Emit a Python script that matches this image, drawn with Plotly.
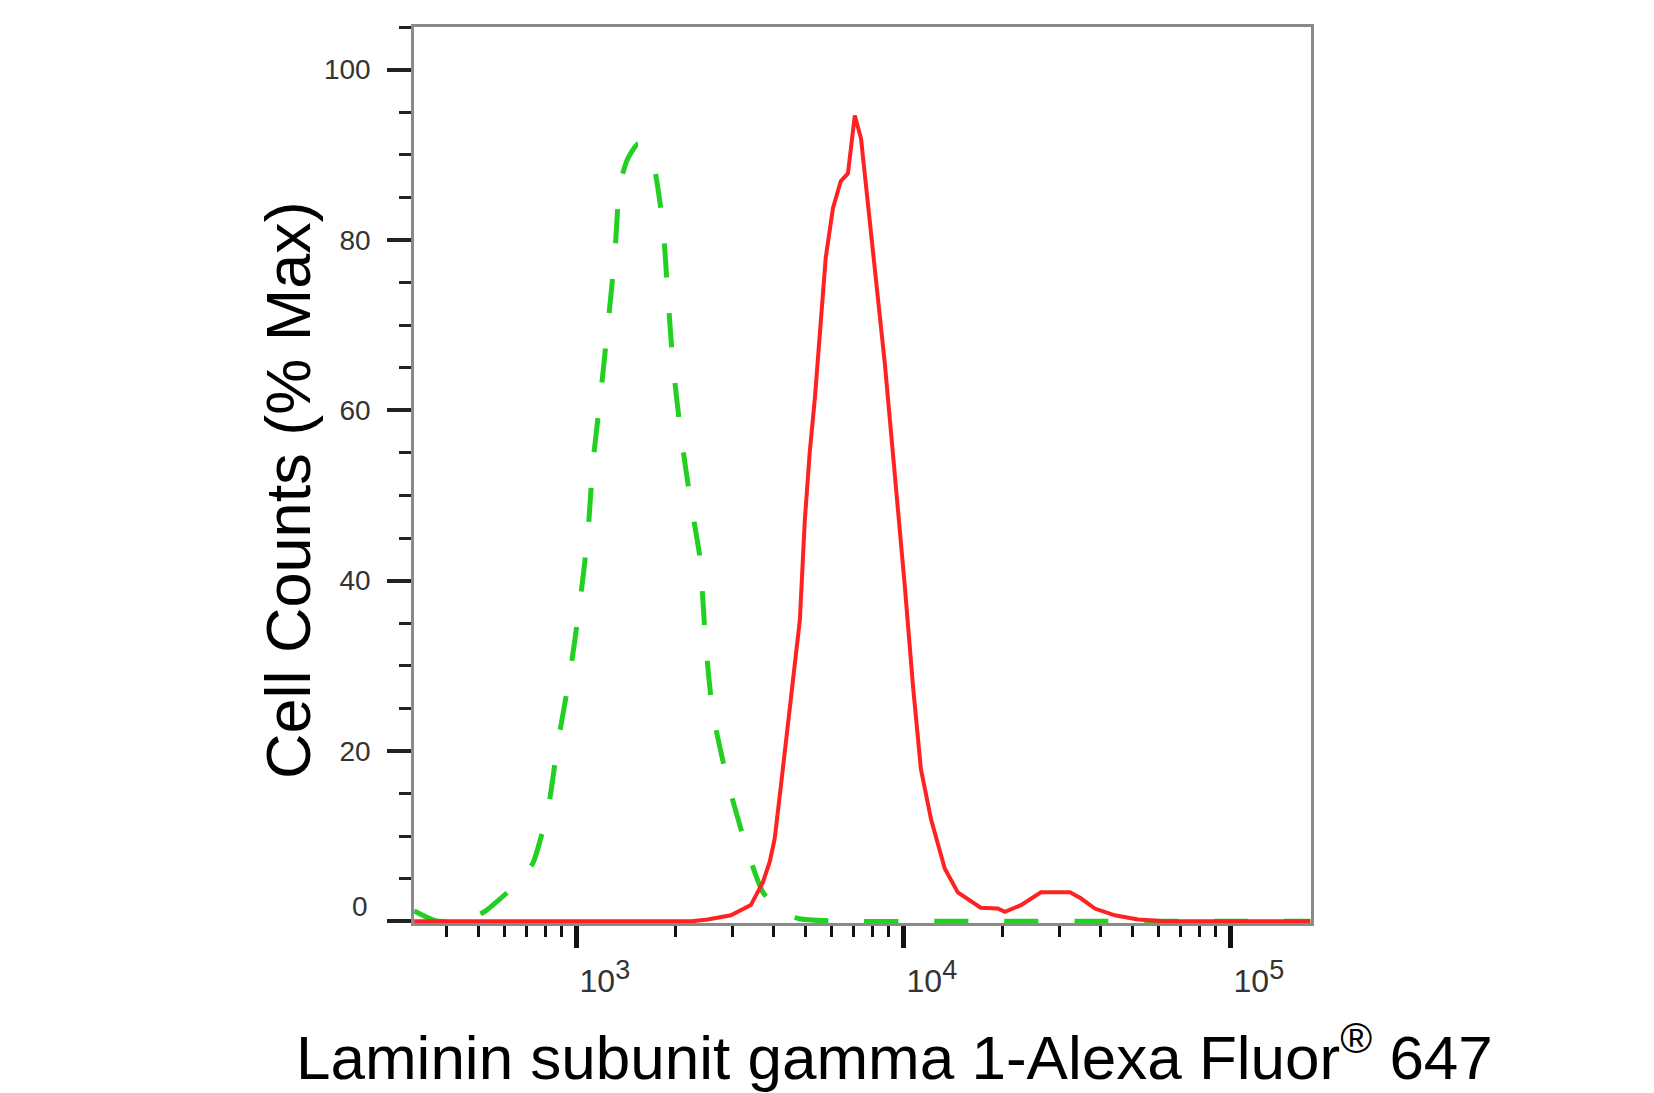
import plotly.graph_objects as go

# Fluorescence intensity (Alexa Fluor 647) and % of max cell counts
green_x = [318, 347, 376, 447, 481, 525, 573, 646, 733, 815, 875, 953, 1021, 1081,
           1119, 1183, 1245, 1306, 1352, 1429, 1538, 1641, 1730, 1832, 1897, 1968,
           2080, 2234, 2377, 2477, 2606, 2897, 3334, 3707, 4169, 4786, 7000, 12000,
           20000, 40000, 80000, 175000]
green_y = [1.2, 0.5, 0.0, 0.0, 0.4, 1.2, 2.4, 4.2, 6.8, 13.0, 20.9, 29.1, 37.3, 45.5,
           53.7, 61.9, 70.1, 78.2, 86.4, 89.5, 91.3, 90.2, 88.2, 81.8, 73.6, 65.4,
           57.2, 49.0, 42.8, 32.6, 24.4, 16.3, 8.1, 3.4, 1.3, 0.3, 0.0, 0.0, 0.0,
           0.0, 0.0, 0.0]

red_x = [318, 1000, 2239, 2512, 2958, 3404, 3707, 3890, 4027, 4207, 4487, 4808,
         4977, 5152, 5346, 5572, 5768, 6067, 6412, 6745, 7079, 7396, 7943, 8318,
         8750, 9120, 9594, 10069, 10666, 11272, 12106, 13335, 14622, 17179, 19364,
         20370, 22803, 26242, 32211, 34754, 38371, 44157, 52000, 63000, 175000]
red_y = [0.0, 0.0, 0.0, 0.2, 0.7, 1.9, 4.6, 7.0, 9.7, 15.9, 25.5, 35.4, 47.0, 55.0,
         61.5, 71.2, 77.9, 83.7, 86.9, 87.8, 94.6, 91.9, 81.0, 73.2, 65.4, 57.7,
         48.7, 39.3, 27.6, 17.9, 12.0, 6.2, 3.4, 1.6, 1.5, 1.1, 1.9, 3.4, 3.4, 2.7,
         1.5, 0.7, 0.2, 0.0, 0.0]

y_ticks = [0, 20, 40, 60, 80, 100]
y_ticklabels = ["", "20", "40", "60", "80", "100"]
x_ticks = [1000, 10000, 100000]
x_exponents = ["3", "4", "5"]
x_ticklabels = ["10<sup><span style='font-size:27px'>%s</span></sup>" % e for e in x_exponents]

x_minor = [k * 10 ** d for d in (2, 3, 4, 5) for k in range(2, 10)]

# plot area in pixels
L, R, T, B = 406, 1303, 19, 915
W, H = 1654, 1093


def px(x):
    return (x - L) / (R - L)


def py(y):
    return (B - y) / (B - T)


fig = go.Figure()
fig.add_trace(go.Scatter(
    x=green_x, y=green_y, mode="lines",
    line=dict(color="#22d022", width=5, dash="34px,36px", shape="spline", smoothing=0.5),
    showlegend=False, hoverinfo="skip"))
fig.add_trace(go.Scatter(
    x=red_x, y=red_y, mode="lines",
    line=dict(color="#ff2222", width=4),
    showlegend=False, hoverinfo="skip"))

sans = "Liberation Sans, Arial"

fig.update_layout(
    width=W, height=H,
    margin=dict(l=L, r=W - R, t=T, b=H - B),
    paper_bgcolor="white", plot_bgcolor="white",
    xaxis=dict(
        type="log", range=[2.502, 5.245], automargin=False,
        tickmode="array", tickvals=x_ticks, ticktext=x_ticklabels,
        ticks="outside", ticklen=22, tickwidth=5, tickcolor="#111",
        tickfont=dict(family=sans, size=32, color="#333"),
        ticklabelshift=28, ticklabelstandoff=6,
        minor=dict(tickmode="array", tickvals=x_minor, ticks="outside",
                   ticklen=11, tickwidth=2.5, tickcolor="#111"),
        showline=True, linecolor="#8a8a8a", linewidth=2.5, mirror=True,
        showgrid=False, zeroline=False,
    ),
    yaxis=dict(
        range=[-0.2, 105], automargin=False,
        tickmode="array", tickvals=y_ticks, ticktext=y_ticklabels,
        ticks="outside", ticklen=24, tickwidth=3.5, tickcolor="#222",
        tickfont=dict(family=sans, size=28, color="#333"),
        ticklabelstandoff=11,
        minor=dict(dtick=5, tick0=0, ticks="outside", ticklen=12,
                   tickwidth=2.5, tickcolor="#222"),
        showline=True, linecolor="#8a8a8a", linewidth=2.5, mirror=True,
        showgrid=False, zeroline=False,
    ),
    annotations=[
        dict(text="0", xref="paper", yref="y", x=0, y=0, xanchor="right",
             yanchor="middle", xshift=-44, yshift=15, showarrow=False,
             font=dict(family=sans, size=28, color="#333")),
        dict(text="Laminin subunit gamma 1-Alexa Fluor<sup>®</sup> 647",
             xref="paper", yref="paper", x=px(286), y=py(1086),
             xanchor="left", yanchor="bottom", showarrow=False,
             font=dict(family=sans, size=62, color="black")),
        dict(text="Cell Counts (% Max)", textangle=-90,
             xref="paper", yref="paper", x=px(280), y=py(482),
             xanchor="center", yanchor="middle", showarrow=False,
             font=dict(family=sans, size=63, color="black")),
    ],
)

fig.write_html("out.html")
